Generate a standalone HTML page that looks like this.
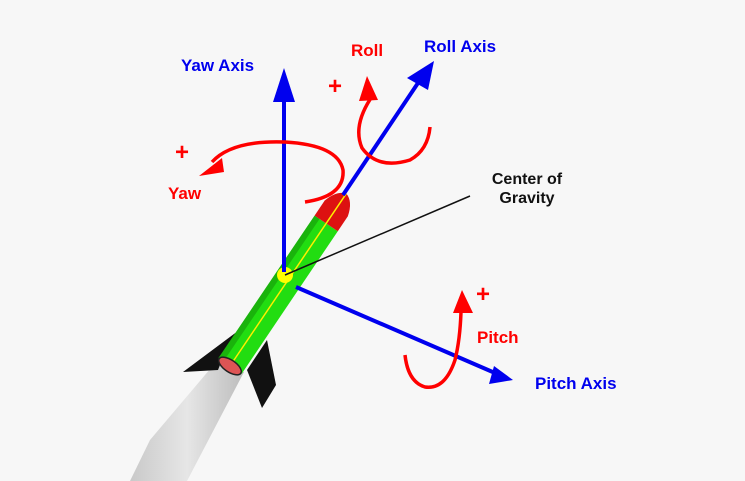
<!DOCTYPE html>
<html><head><meta charset="utf-8"><style>
html,body{margin:0;padding:0;background:#f7f7f7;}
svg{display:block;font-family:"Liberation Sans",Arial,sans-serif;font-weight:bold;}
</style></head><body>
<svg width="745" height="481" viewBox="0 0 745 481">
<rect width="745" height="481" fill="#f7f7f7"/>
<defs>
<linearGradient id="plume" x1="0" y1="0" x2="1" y2="0">
<stop offset="0" stop-color="#c9c9c9"/><stop offset="0.5" stop-color="#e6e6e6"/><stop offset="1" stop-color="#bdbdbd"/>
</linearGradient>
</defs>
<polygon points="216,362 244,372 187,481 130,481 150,440" fill="url(#plume)"/>
<polygon points="250,322 183,372 218,370 227,347" fill="#111"/>
<polygon points="267,340 276,385 262,408 247,370" fill="#111"/>
<g transform="translate(230,366) rotate(34)">
<rect x="-14" y="-172" width="28" height="172" fill="#22dd11"/>
<rect x="-14" y="-172" width="6" height="172" fill="#118a08" opacity="0.5"/>
<path d="M-14,-172 L-14,-190 Q-10,-205 0,-208 Q10,-205 14,-190 L14,-172 Z" fill="#dd1111"/>
<line x1="0" y1="-208" x2="0" y2="0" stroke="#ffee00" stroke-width="1.5"/>
<ellipse cx="0" cy="0" rx="13" ry="6" fill="#dd5555" stroke="#222" stroke-width="1.5"/>
</g>
<circle cx="285" cy="275" r="8" fill="#ffff00"/>
<g stroke="#0000ee" stroke-width="4" fill="#0000ee">
<line x1="284" y1="272" x2="284" y2="100"/>
<polygon points="284,68 273,102 295,102" stroke="none"/>
<line x1="343" y1="195" x2="420" y2="80"/>
<polygon points="434,61 407,78 428,90" stroke="none"/>
<line x1="296" y1="287" x2="495" y2="373"/>
<polygon points="513,380 494,366 489,384" stroke="none"/>
</g>
<line x1="285" y1="275" x2="470" y2="196" stroke="#111" stroke-width="1.5"/>
<g stroke="#ff0000" stroke-width="3.5" fill="none">
<path d="M305,202 Q345,196 343,170 Q338,145 285,142 Q232,140 212,162"/>
<path d="M373,95 Q352,125 362,148 Q378,170 410,160 Q428,150 430,127"/>
<path d="M461,312 Q460,340 455,360 Q445,390 425,387 Q408,382 405,355"/>
</g>
<g fill="#ff0000">
<polygon points="199,176 222,158 224,172"/>
<polygon points="367,76 359,101 378,100"/>
<polygon points="462,290 453,313 473,313"/>
</g>
<g font-size="17">
<text x="181" y="71" fill="#0000ee">Yaw  Axis</text>
<text x="424" y="52" fill="#0000ee">Roll  Axis</text>
<text x="535" y="389" fill="#0000ee">Pitch  Axis</text>
<text x="351" y="56" fill="#ff0000">Roll</text>
<text x="168" y="199" fill="#ff0000">Yaw</text>
<text x="477" y="343" fill="#ff0000">Pitch</text>
<text x="527" y="184" fill="#111" text-anchor="middle" font-size="16">Center of</text>
<text x="527" y="203" fill="#111" text-anchor="middle" font-size="16">Gravity</text>
</g>
<g font-size="24" fill="#ff0000">
<text x="328" y="94">+</text>
<text x="175" y="160">+</text>
<text x="476" y="302">+</text>
</g>
</svg>
</body></html>
